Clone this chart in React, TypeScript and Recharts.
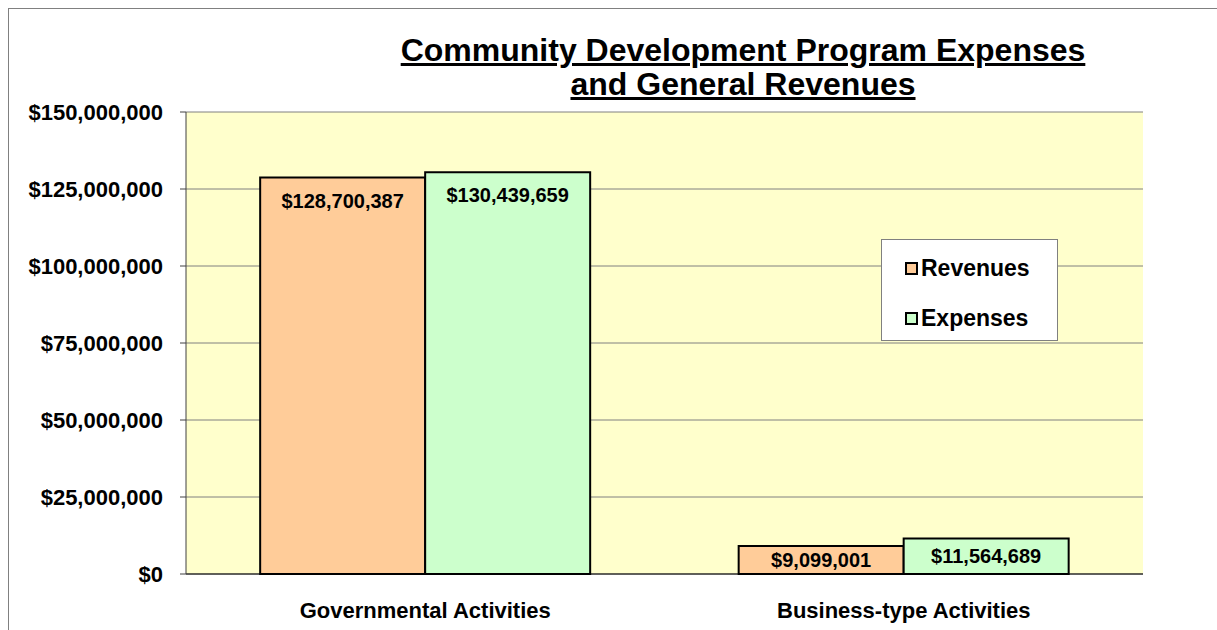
import React from 'react';
import {
  BarChart,
  Bar,
  XAxis,
  YAxis,
  CartesianGrid,
} from 'recharts';

const categories = ['Governmental Activities', 'Business-type Activities'];
const revenues = [128700387, 9099001];
const expenses = [130439659, 11564689];
const yTicks = [0, 25000000, 50000000, 75000000, 100000000, 125000000, 150000000];
const legendItems = [
  { label: 'Revenues', color: '#FFCC99' },
  { label: 'Expenses', color: '#CCFFCC' },
];

const FONT = '"Liberation Sans", Arial, sans-serif';

const data = categories.map((name, i) => ({
  name,
  revenues: revenues[i],
  expenses: expenses[i],
}));

function money(v: number) {
  return '$' + Number(v).toLocaleString('en-US');
}

function InsideLabel(props: any) {
  const { x, y, width, height, value } = props;
  // Excel "inside end"; short bars fall back to centre
  const cy = height < 60 ? y + height / 2 : y + 23;
  return (
    <text
      x={x + width / 2}
      y={cy}
      dy="0.355em"
      textAnchor="middle"
      fontFamily={FONT}
      fontWeight="bold"
      fontSize={20}
      fill="#000"
    >
      {money(value)}
    </text>
  );
}

function LegendBox() {
  return (
    <div
      style={{
        position: 'absolute',
        left: 872,
        top: 230,
        width: 177,
        height: 102,
        background: '#fff',
        border: '1px solid #808080',
        fontFamily: FONT,
        fontWeight: 'bold',
        fontSize: 23,
        boxSizing: 'border-box',
        zIndex: 2,
      }}
    >
      {legendItems.map((it, i) => (
        <div
          key={it.label}
          style={{
            position: 'absolute',
            left: 23,
            top: 13 + i * 50,
            height: 30,
            display: 'flex',
            alignItems: 'center',
          }}
        >
          <span
            style={{
              display: 'inline-block',
              width: 9,
              height: 9,
              background: it.color,
              border: '2px solid #000',
              marginRight: 3,
            }}
          />
          <span style={{ color: '#000' }}>{it.label}</span>
        </div>
      ))}
    </div>
  );
}

export default function App() {
  return (
    <div style={{ position: 'relative', width: 1217, height: 630, overflow: 'hidden', background: '#fff' }}>
      <style>{'html,body{margin:0;padding:0;overflow:hidden;}'}</style>
      {/* outer chart frame, right/bottom edges sit off-page */}
      <div
        style={{
          position: 'absolute',
          left: 8,
          top: 8,
          width: 1220,
          height: 640,
          borderTop: '1px solid #808080',
          borderLeft: '1px solid #808080',
        }}
      />
      <div style={{ position: 'absolute', left: 9, top: 9, width: 1208, height: 621 }}>
        <div
          style={{
            position: 'absolute',
            left: 334,
            top: 24,
            width: 800,
            textAlign: 'center',
            fontFamily: FONT,
            fontWeight: 'bold',
            fontSize: 32,
            lineHeight: '34px',
            textDecoration: 'underline',
            color: '#000',
            zIndex: 2,
          }}
        >
          Community Development Program Expenses
          <br />
          and General Revenues
        </div>
        <LegendBox />
        <BarChart
          width={1208}
          height={621}
          data={data}
          margin={{ top: 103, right: 74, left: 0, bottom: 24 }}
          barGap={0}
          barCategoryGap="15.5%"
        >
          <CartesianGrid vertical={false} stroke="#808080" fill="#FFFFCC" fillOpacity={1} />
          <XAxis
            dataKey="name"
            axisLine={{ stroke: '#000', strokeWidth: 1 }}
            tickLine={false}
            tickSize={0}
            tickMargin={28}
            height={32}
            tick={{ fill: '#000', fontFamily: FONT, fontWeight: 'bold', fontSize: 22 }}
          />
          <YAxis
            domain={[0, 150000000]}
            ticks={yTicks}
            width={177}
            tickFormatter={money}
            axisLine={{ stroke: '#404040' }}
            tickLine={{ stroke: '#404040' }}
            tickSize={6}
            tickMargin={17}
            tick={{ fill: '#000', fontFamily: FONT, fontWeight: 'bold', fontSize: 22 }}
          />
          <YAxis
            yAxisId="r"
            orientation="right"
            domain={[0, 150000000]}
            width={0}
            tick={false}
            tickLine={false}
            axisLine={{ stroke: '#A0A0A0' }}
          />
          <Bar
            dataKey="revenues"
            name="Revenues"
            fill="#FFCC99"
            stroke="#000"
            strokeWidth={2}
            isAnimationActive={false}
            label={InsideLabel}
          />
          <Bar
            dataKey="expenses"
            name="Expenses"
            fill="#CCFFCC"
            stroke="#000"
            strokeWidth={2}
            isAnimationActive={false}
            label={InsideLabel}
          />
        </BarChart>
      </div>
    </div>
  );
}
